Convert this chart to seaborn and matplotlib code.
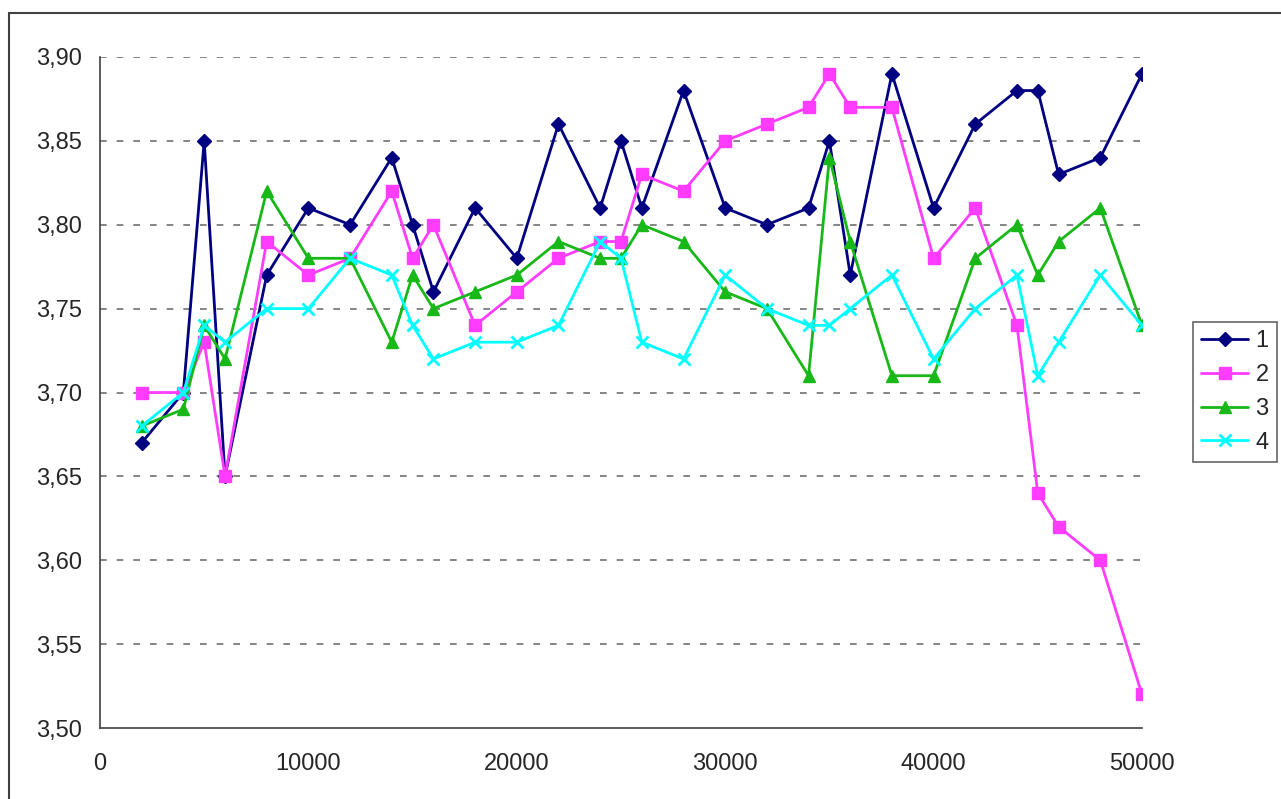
import numpy as np
import pandas as pd
import matplotlib
matplotlib.use('Agg')
import matplotlib.pyplot as plt
import seaborn as sns
from matplotlib.lines import Line2D

# 데이터
x_vals = [2000, 4000, 5000, 6000, 8000, 10000, 12000, 14000, 15000, 16000,
          18000, 20000, 22000, 24000, 25000, 26000, 28000, 30000, 32000, 34000,
          35000, 36000, 38000, 40000, 42000, 44000, 45000, 46000, 48000, 50000]

series_1 = [3.67, 3.70, 3.85, 3.65, 3.77, 3.81, 3.80, 3.84, 3.80, 3.76,
            3.81, 3.78, 3.86, 3.81, 3.85, 3.81, 3.88, 3.81, 3.80, 3.81,
            3.85, 3.77, 3.89, 3.81, 3.86, 3.88, 3.88, 3.83, 3.84, 3.89]
series_2 = [3.70, 3.70, 3.73, 3.65, 3.79, 3.77, 3.78, 3.82, 3.78, 3.80,
            3.74, 3.76, 3.78, 3.79, 3.79, 3.83, 3.82, 3.85, 3.86, 3.87,
            3.89, 3.87, 3.87, 3.78, 3.81, 3.74, 3.64, 3.62, 3.60, 3.52]
series_3 = [3.68, 3.69, 3.74, 3.72, 3.82, 3.78, 3.78, 3.73, 3.77, 3.75,
            3.76, 3.77, 3.79, 3.78, 3.78, 3.80, 3.79, 3.76, 3.75, 3.71,
            3.84, 3.79, 3.71, 3.71, 3.78, 3.80, 3.77, 3.79, 3.81, 3.74]
series_4 = [3.68, 3.70, 3.74, 3.73, 3.75, 3.75, 3.78, 3.77, 3.74, 3.72,
            3.73, 3.73, 3.74, 3.79, 3.78, 3.73, 3.72, 3.77, 3.75, 3.74,
            3.74, 3.75, 3.77, 3.72, 3.75, 3.77, 3.71, 3.73, 3.77, 3.74]

series_names = ['1', '2', '3', '4']
y_ticks = [3.50, 3.55, 3.60, 3.65, 3.70, 3.75, 3.80, 3.85, 3.90]
x_ticks = [0, 10000, 20000, 30000, 40000, 50000]

colors = {'1': '#000080', '2': '#FF3CFF', '3': '#17B817', '4': '#00FFFF'}
markers = {'1': 'D', '2': 's', '3': '^', '4': 'x'}
msizes = {'1': 7.5, '2': 8.5, '3': 9, '4': 9}

# long-form 데이터프레임
df = pd.DataFrame({
    'x': x_vals * 4,
    'y': series_1 + series_2 + series_3 + series_4,
    'series': np.repeat(series_names, len(x_vals)),
})

sns.set_style('white')
plt.rcParams['font.family'] = ['Liberation Sans', 'DejaVu Sans']

fig = plt.figure(figsize=(12.81, 7.99), dpi=100)
ax = fig.add_axes([100 / 1281, 71 / 799, 1042 / 1281, 671 / 799])

# 바깥 테두리 (오른쪽/아래는 잘림)
fig.add_artist(Line2D([9 / 1281, 1.0], [1 - 13 / 799, 1 - 13 / 799],
                      transform=fig.transFigure, color='#404040', lw=1.5))
fig.add_artist(Line2D([9 / 1281, 9 / 1281], [0, 1 - 13 / 799],
                      transform=fig.transFigure, color='#404040', lw=1.5))

for name in series_names:
    sub = df[df['series'] == name]
    sns.lineplot(data=sub, x='x', y='y', ax=ax, color=colors[name],
                 marker=markers[name], markersize=msizes[name],
                 markeredgecolor=colors[name], markeredgewidth=2 if name == '4' else 1,
                 linewidth=2, label=name, zorder=3)

ax.set_xlim(0, 50000)
ax.set_ylim(3.50, 3.90)
ax.set_xticks(x_ticks)
ax.set_yticks(y_ticks)
ax.set_yticklabels([f'{v:.2f}'.replace('.', ',') for v in y_ticks])
ax.set_xticklabels([str(v) for v in x_ticks])
ax.set_xlabel('')
ax.set_ylabel('')

for v in y_ticks[1:]:
    ax.axhline(v, color='#707070', lw=1.2, ls=(0, (4, 6)), zorder=1)

for side in ['top', 'right']:
    ax.spines[side].set_visible(False)
for side in ['left', 'bottom']:
    ax.spines[side].set_color('#404040')
    ax.spines[side].set_linewidth(1.2)

ax.tick_params(axis='both', which='major', direction='out', length=4,
               width=1.2, color='#404040', labelsize=17)
ax.tick_params(axis='y', pad=9)
ax.tick_params(axis='x', pad=14)

leg = ax.legend(loc='upper left', bbox_to_anchor=(1093 / 1042, (728 - 322) / 671),
                frameon=True, fancybox=False, fontsize=17, handlelength=2.0,
                borderpad=0.35, labelspacing=0.5, handletextpad=0.3,
                borderaxespad=0)
leg.get_frame().set_edgecolor('#404040')
leg.get_frame().set_linewidth(1.2)

fig.savefig('out.png', dpi=100, facecolor='white')
